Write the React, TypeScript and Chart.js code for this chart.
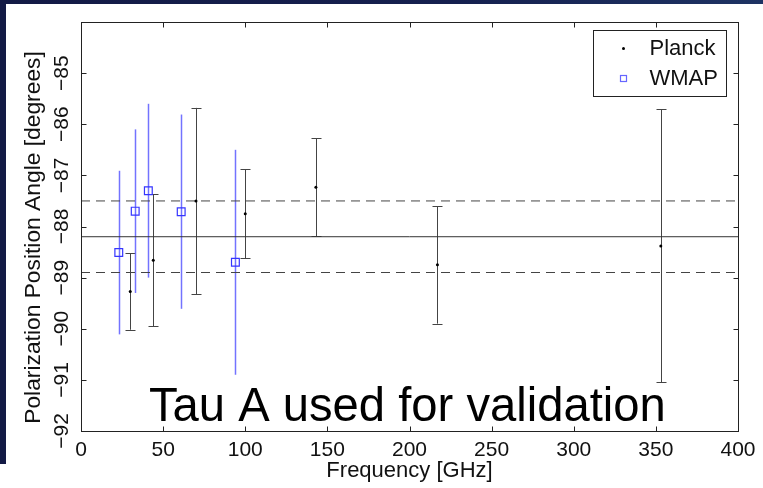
import React, { useEffect, useRef } from "react";
import { Chart, registerables } from "chart.js";

Chart.register(...registerables);

// ---- data ----
const PLANCK_FREQ = [30, 44, 70, 100, 143, 217, 353];
const PLANCK_ANGLE = [-89.27, -88.66, -87.5, -87.75, -87.23, -88.75, -88.38];
const PLANCK_ERR = [0.75, 1.29, 1.82, 0.87, 0.96, 1.15, 2.67];

const WMAP_FREQ = [23, 33, 41, 61, 94];
const WMAP_ANGLE = [-88.51, -87.7, -87.3, -87.71, -88.7];
const WMAP_ERR = [1.6, 1.6, 1.7, 1.9, 2.2];

const MEAN_ANGLE = -88.2;
const MEAN_SPREAD = 0.7;

const X_MIN = 0;
const X_MAX = 400;
const X_STEP = 50;
const Y_MIN = -92;
const Y_MAX = -84;
const Y_LABELS = [-92, -91, -90, -89, -88, -87, -86, -85];

const X_TITLE = "Frequency [GHz]";
const Y_TITLE = "Polarization Position Angle [degrees]";
const NOTE = "Tau A used for validation";
const SERIES_NAMES = ["Planck", "WMAP"];

const FONT = '"Liberation Sans", Arial, Helvetica, sans-serif';

const decoPlugin = {
  id: "deco",
  beforeDatasetsDraw(chart: any) {
    const ctx = chart.ctx;
    const xs = chart.scales.x;
    const ys = chart.scales.y;
    ctx.save();
    // Planck error bars with caps
    ctx.strokeStyle = "#444";
    ctx.lineWidth = 1;
    PLANCK_FREQ.forEach((f, i) => {
      const x = Math.round(xs.getPixelForValue(f)) + 0.5;
      const y1 = ys.getPixelForValue(PLANCK_ANGLE[i] + PLANCK_ERR[i]);
      const y2 = ys.getPixelForValue(PLANCK_ANGLE[i] - PLANCK_ERR[i]);
      ctx.beginPath();
      ctx.moveTo(x, y1);
      ctx.lineTo(x, y2);
      ctx.moveTo(x - 5, Math.round(y1) + 0.5);
      ctx.lineTo(x + 5, Math.round(y1) + 0.5);
      ctx.moveTo(x - 5, Math.round(y2) + 0.5);
      ctx.lineTo(x + 5, Math.round(y2) + 0.5);
      ctx.stroke();
    });
    // WMAP error bars without caps
    ctx.strokeStyle = "rgba(90,90,255,0.85)";
    ctx.lineWidth = 1.5;
    WMAP_FREQ.forEach((f, i) => {
      const x = Math.round(xs.getPixelForValue(f)) + 0.5;
      const y1 = ys.getPixelForValue(WMAP_ANGLE[i] + WMAP_ERR[i]);
      const y2 = ys.getPixelForValue(WMAP_ANGLE[i] - WMAP_ERR[i]);
      ctx.beginPath();
      ctx.moveTo(x, y1);
      ctx.lineTo(x, y2);
      ctx.stroke();
    });
    ctx.restore();
  },
  afterDraw(chart: any) {
    const ctx = chart.ctx;
    const xs = chart.scales.x;
    const ys = chart.scales.y;
    const a = chart.chartArea;
    ctx.save();
    // frame
    ctx.strokeStyle = "#222";
    ctx.lineWidth = 1;
    const L = Math.round(a.left) + 0.5;
    const R = Math.round(a.right) + 0.5;
    const T = Math.round(a.top) + 0.5;
    const B = Math.round(a.bottom) + 0.5;
    ctx.strokeRect(L, T, R - L, B - T);
    // inward ticks
    ctx.beginPath();
    xs.ticks.forEach((t: any) => {
      const x = Math.round(xs.getPixelForValue(t.value)) + 0.5;
      ctx.moveTo(x, B);
      ctx.lineTo(x, B - 5);
      ctx.moveTo(x, T);
      ctx.lineTo(x, T + 5);
    });
    ys.ticks.forEach((t: any) => {
      const y = Math.round(ys.getPixelForValue(t.value)) + 0.5;
      ctx.moveTo(L, y);
      ctx.lineTo(L + 5, y);
      ctx.moveTo(R, y);
      ctx.lineTo(R - 5, y);
    });
    ctx.stroke();

    // y tick labels (rotated)
    ctx.fillStyle = "#111";
    ctx.font = `21px ${FONT}`;
    ctx.textAlign = "center";
    ctx.textBaseline = "alphabetic";
    Y_LABELS.forEach((v) => {
      const y = ys.getPixelForValue(v);
      ctx.save();
      ctx.translate(68, y);
      ctx.rotate(-Math.PI / 2);
      ctx.fillText((v < 0 ? "\u2212" : "") + Math.abs(v), 0, 0);
      ctx.restore();
    });

    // y title
    ctx.save();
    ctx.font = `22.8px ${FONT}`;
    ctx.translate(39.5, (a.top + a.bottom) / 2 + 11);
    ctx.rotate(-Math.PI / 2);
    ctx.fillText(Y_TITLE, 0, 0);
    ctx.restore();

    // annotation
    ctx.fillStyle = "#000";
    ctx.font = `47.2px ${FONT}`;
    ctx.textAlign = "left";
    ctx.fillText(NOTE, a.left + 68, a.bottom - 10);

    // legend
    const lx = a.right - 144.5;
    const ly = a.top + 8.5;
    ctx.fillStyle = "#fff";
    ctx.fillRect(lx, ly, 133, 66);
    ctx.strokeStyle = "#222";
    ctx.strokeRect(lx, ly, 133, 66);
    ctx.fillStyle = "#000";
    ctx.beginPath();
    ctx.arc(lx + 30, ly + 18, 1.5, 0, Math.PI * 2);
    ctx.fill();
    ctx.strokeStyle = "#6666ff";
    ctx.lineWidth = 1.2;
    ctx.strokeRect(lx + 27, ly + 45, 6, 6);
    ctx.fillStyle = "#111";
    ctx.font = `22px ${FONT}`;
    ctx.textBaseline = "middle";
    ctx.fillText(SERIES_NAMES[0], lx + 56, ly + 18);
    ctx.fillText(SERIES_NAMES[1], lx + 56, ly + 48);
    ctx.restore();
  },
};

export default function App() {
  const ref = useRef<HTMLCanvasElement | null>(null);

  useEffect(() => {
    if (!ref.current) return;
    const hline = (v: number) => [
      { x: X_MIN, y: v },
      { x: X_MAX, y: v },
    ];
    const chart = new Chart(ref.current, {
      type: "scatter",
      data: {
        datasets: [
          {
            label: SERIES_NAMES[0],
            data: PLANCK_FREQ.map((f, i) => ({ x: f, y: PLANCK_ANGLE[i] })),
            pointStyle: "circle",
            pointRadius: 1.5,
            backgroundColor: "#000",
            borderColor: "#000",
            borderWidth: 0,
          },
          {
            label: SERIES_NAMES[1],
            data: WMAP_FREQ.map((f, i) => ({ x: f, y: WMAP_ANGLE[i] })),
            pointStyle: "rect",
            pointRadius: 5.5,
            backgroundColor: "rgba(0,0,0,0)",
            borderColor: "#3535ff",
            borderWidth: 1.2,
          },
          {
            label: "mean",
            data: hline(MEAN_ANGLE),
            showLine: true,
            pointRadius: 0,
            borderColor: "#333",
            borderWidth: 1,
          },
          {
            label: "upper",
            data: hline(MEAN_ANGLE + MEAN_SPREAD),
            showLine: true,
            pointRadius: 0,
            borderColor: "#444",
            borderWidth: 1,
            borderDash: [9, 6],
          },
          {
            label: "lower",
            data: hline(MEAN_ANGLE - MEAN_SPREAD),
            showLine: true,
            pointRadius: 0,
            borderColor: "#444",
            borderWidth: 1,
            borderDash: [9, 6],
          },
        ],
      },
      options: {
        animation: false,
        responsive: false,
        devicePixelRatio: 1,
        layout: { padding: { left: 0, top: 22, right: 25, bottom: 0 } },
        plugins: {
          legend: { display: false },
          tooltip: { enabled: false },
        },
        scales: {
          x: {
            type: "linear",
            min: X_MIN,
            max: X_MAX,
            grid: { display: false, drawTicks: false },
            border: { display: false },
            ticks: {
              stepSize: X_STEP,
              autoSkip: false,
              maxRotation: 0,
              padding: 7,
              color: "#111",
              font: { family: FONT, size: 21 },
            },
            title: {
              display: true,
              text: X_TITLE,
              color: "#111",
              font: { family: FONT, size: 22 },
              padding: { top: 0, bottom: 4 },
            },
            afterFit: (s: any) => {
              s.height = 57;
            },
          },
          y: {
            type: "linear",
            min: Y_MIN,
            max: Y_MAX,
            grid: { display: false, drawTicks: false },
            border: { display: false },
            ticks: { stepSize: 1, display: false },
            afterFit: (s: any) => {
              s.width = 81;
            },
          },
        },
      },
      plugins: [decoPlugin],
    });
    return () => chart.destroy();
  }, []);

  return (
    <div
      style={{
        position: "fixed",
        left: 0,
        top: 0,
        width: 763,
        height: 488,
        background: "#fff",
        overflow: "hidden",
      }}
    >
      <canvas
        ref={ref}
        width={763}
        height={488}
        style={{ position: "absolute", left: 0, top: 0, width: 763, height: 488 }}
      />
      <div
        style={{
          position: "absolute",
          left: 0,
          top: 0,
          width: 763,
          height: 4,
          background: "linear-gradient(90deg, #131a45 0%, #15204f 60%, #1e3363 100%)",
        }}
      />
      <div
        style={{
          position: "absolute",
          left: 0,
          top: 0,
          width: 6,
          height: 464,
          background: "#131a45",
        }}
      />
    </div>
  );
}
